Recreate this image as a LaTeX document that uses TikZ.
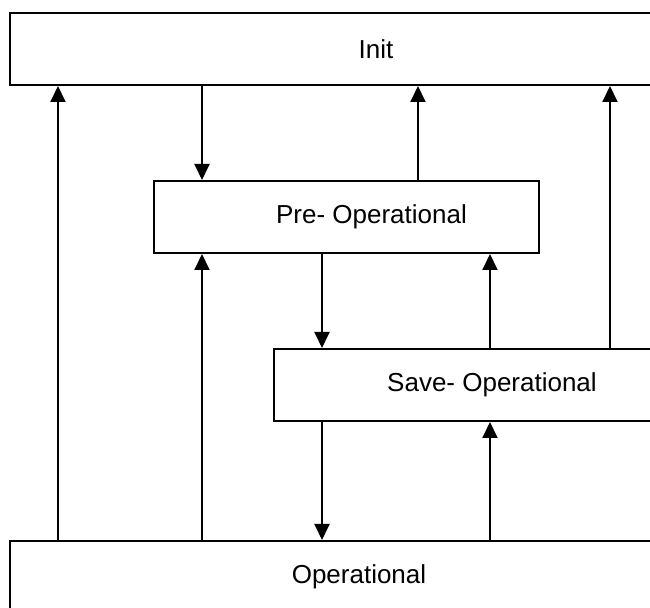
\documentclass[tikz,border=0pt]{standalone}
\usepackage{fontspec}
\setmainfont{Liberation Sans}
\usetikzlibrary{arrows.meta}
\begin{document}
\begin{tikzpicture}[x={(0.5pt,0)}, y={(0,-0.5pt)},
  box/.style={draw, line width=1pt, rectangle, minimum height=36pt, inner sep=0pt, font=\fontsize{13}{15}\selectfont},
  lbl/.style={font=\fontsize{13}{15}\selectfont, inner sep=0pt},
  arr/.style={line width=1pt, -{Triangle[width=7.5pt,length=8pt]}}]
\useasboundingbox (0,0) rectangle (650,608);
\node[box, minimum width=366pt] (init) at (376,49) {Init};
\node[box, minimum width=192.5pt] (pre) at (346.5,217) {};
\node[lbl] (prelbl) at (371.5,217) {Pre- Operational};
\node[box, minimum width=218pt] (save) at (492,385) {Save- Operational};
\node[box, minimum width=349pt] (op) at (359,577) {Operational};
\coordinate (xa) at (58,0);
\coordinate (xb) at (202,0);
\coordinate (xc) at (322,0);
\coordinate (xd) at (418,0);
\coordinate (xe) at (490,0);
\coordinate (xf) at (610,0);
% downward
\draw[arr] (init.south -| xb) -- (pre.north -| xb);
\draw[arr] (pre.south -| xc) -- (save.north -| xc);
\draw[arr] (save.south -| xc) -- (op.north -| xc);
% upward
\draw[arr] (op.north -| xa) -- (init.south -| xa);
\draw[arr] (op.north -| xb) -- (pre.south -| xb);
\draw[arr] (pre.north -| xd) -- (init.south -| xd);
\draw[arr] (save.north -| xe) -- (pre.south -| xe);
\draw[arr] (op.north -| xe) -- (save.south -| xe);
\draw[arr] (save.north -| xf) -- (init.south -| xf);
\end{tikzpicture}
\end{document}
